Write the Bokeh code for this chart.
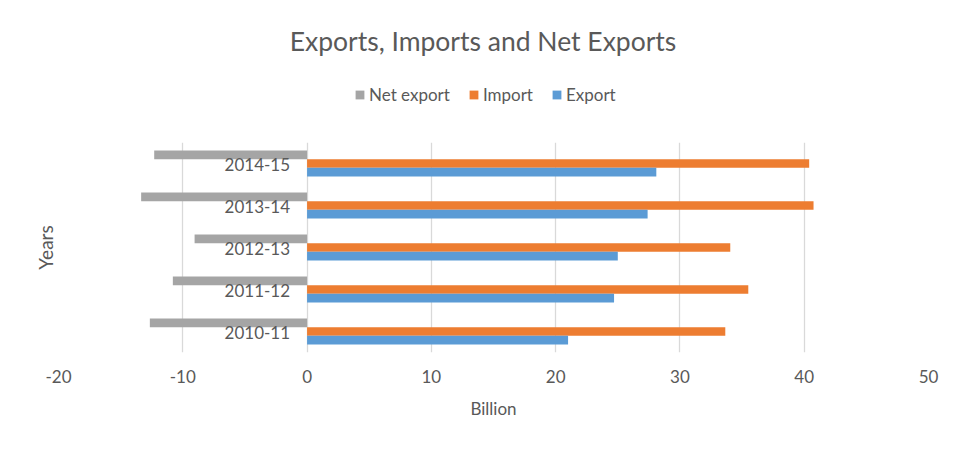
from bokeh.plotting import figure
from bokeh.layouts import column
from bokeh.models import (ColumnDataSource, Range1d, FactorRange, Legend, LegendItem,
                          SingleIntervalTicker, CustomJSTickFormatter, Title, Label)
from bokeh.transform import dodge
from bokeh.core.properties import value
from bokeh.embed import file_html
from bokeh.resources import INLINE

# ---- data ----
years = ["2010-11", "2011-12", "2012-13", "2013-14", "2014-15"]
export_vals = [21.0, 24.7, 25.0, 27.4, 28.1]
import_vals = [33.65, 35.5, 34.05, 40.75, 40.4]
net_export_vals = [-12.65, -10.8, -9.05, -13.35, -12.3]
label_anchor = [0, 0, 0, 0, 0]
series_names = ["Net export", "Import", "Export"]

FONT = "Lato"
TXT = "#595959"
C_EXP = "#5B9BD5"
C_IMP = "#ED7D31"
C_NET = "#A5A5A5"
W = 965
HEAD_H = 142
BL, BR = 58, 37

src = ColumnDataSource(dict(year=years, exp=export_vals, imp=import_vals,
                            net=net_export_vals, anchor=label_anchor))

# ---------------- header: title + legend ----------------
head = figure(width=W, height=HEAD_H, x_range=Range1d(BL, W - BR), y_range=Range1d(0, HEAD_H),
              output_backend="svg", toolbar_location=None, title=None,
              min_border_left=BL, min_border_right=BR, min_border_top=0, min_border_bottom=0)
head.axis.visible = False
head.grid.visible = False
head.outline_line_color = None
head.border_fill_color = "white"
head.background_fill_color = "white"

head.add_layout(Label(x=W / 2, y=HEAD_H - 40, text="Exports, Imports and Net Exports",
                      text_align="center", text_baseline="alphabetic",
                      text_font=FONT, text_font_size="26.5px", text_color=TXT))

# zero-height bars: only their legend swatches show
h_net = head.hbar(y="anchor", left="anchor", right="net", height=0, color=C_NET,
                  line_color=None, source=src)
h_imp = head.hbar(y="anchor", left="anchor", right="imp", height=0, color=C_IMP,
                  line_color=None, source=src)
h_exp = head.hbar(y="anchor", left="anchor", right="exp", height=0, color=C_EXP,
                  line_color=None, source=src)

legend = Legend(items=[LegendItem(label=series_names[0], renderers=[h_net]),
                       LegendItem(label=series_names[1], renderers=[h_imp]),
                       LegendItem(label=series_names[2], renderers=[h_exp])],
                orientation="horizontal", location=(354 - BL, 37),
                glyph_width=11, glyph_height=11, label_standoff=4, spacing=18,
                label_text_font=FONT, label_text_font_size="17px", label_text_color=TXT,
                border_line_color=None, background_fill_alpha=0, padding=0, margin=0)
head.add_layout(legend, "center")

# ---------------- main chart ----------------
p = figure(width=W, height=450 - HEAD_H,
           y_range=FactorRange(factors=years, range_padding=0),
           x_range=Range1d(-20, 50),
           output_backend="svg", toolbar_location=None, title=None,
           min_border_left=BL, min_border_right=BR,
           min_border_top=0, min_border_bottom=98)

p.outline_line_color = None
p.background_fill_color = "white"
p.border_fill_color = "white"

bh = 0.206
p.hbar(y=dodge("year", bh, range=p.y_range), left=0, right="net", height=bh,
       color=C_NET, line_color=None, source=src)
p.hbar(y=dodge("year", 0.0, range=p.y_range), left=0, right="imp", height=bh,
       color=C_IMP, line_color=None, source=src)
p.hbar(y=dodge("year", -bh, range=p.y_range), left=0, right="exp", height=bh,
       color=C_EXP, line_color=None, source=src)

p.text(x="anchor", y="year", text="year", x_offset=-17, y_offset=1,
       text_align="right", text_baseline="middle",
       text_font=value(FONT), text_font_size="17px", text_color=TXT, source=src)

# x axis
p.xaxis.ticker = SingleIntervalTicker(interval=10)
p.xaxis.formatter = CustomJSTickFormatter(code="return String(tick);")
p.xaxis.axis_line_color = None
p.xaxis.major_tick_line_color = None
p.xaxis.minor_tick_line_color = None
p.xaxis.major_label_text_font = FONT
p.xaxis.major_label_text_font_size = "17px"
p.xaxis.major_label_text_color = TXT
p.xaxis.major_label_standoff = 11
p.xaxis.axis_label = "Billion"
p.xaxis.axis_label_text_font = FONT
p.xaxis.axis_label_text_font_size = "17px"
p.xaxis.axis_label_text_font_style = "normal"
p.xaxis.axis_label_text_color = TXT
p.xaxis.axis_label_standoff = 12

# y axis hidden; its title drawn as a left-side Title
p.yaxis.visible = False
p.add_layout(Title(text="Years", align="center", offset=-10, text_font=FONT,
                   text_font_size="19px", text_font_style="normal", text_color=TXT,
                   standoff=3), "left")

p.xgrid.grid_line_color = "#D9D9D9"
p.xgrid.grid_line_width = 1.3
p.ygrid.grid_line_color = None

layout = column(head, p, spacing=0)
open("out.html", "w").write(file_html(layout, INLINE))
